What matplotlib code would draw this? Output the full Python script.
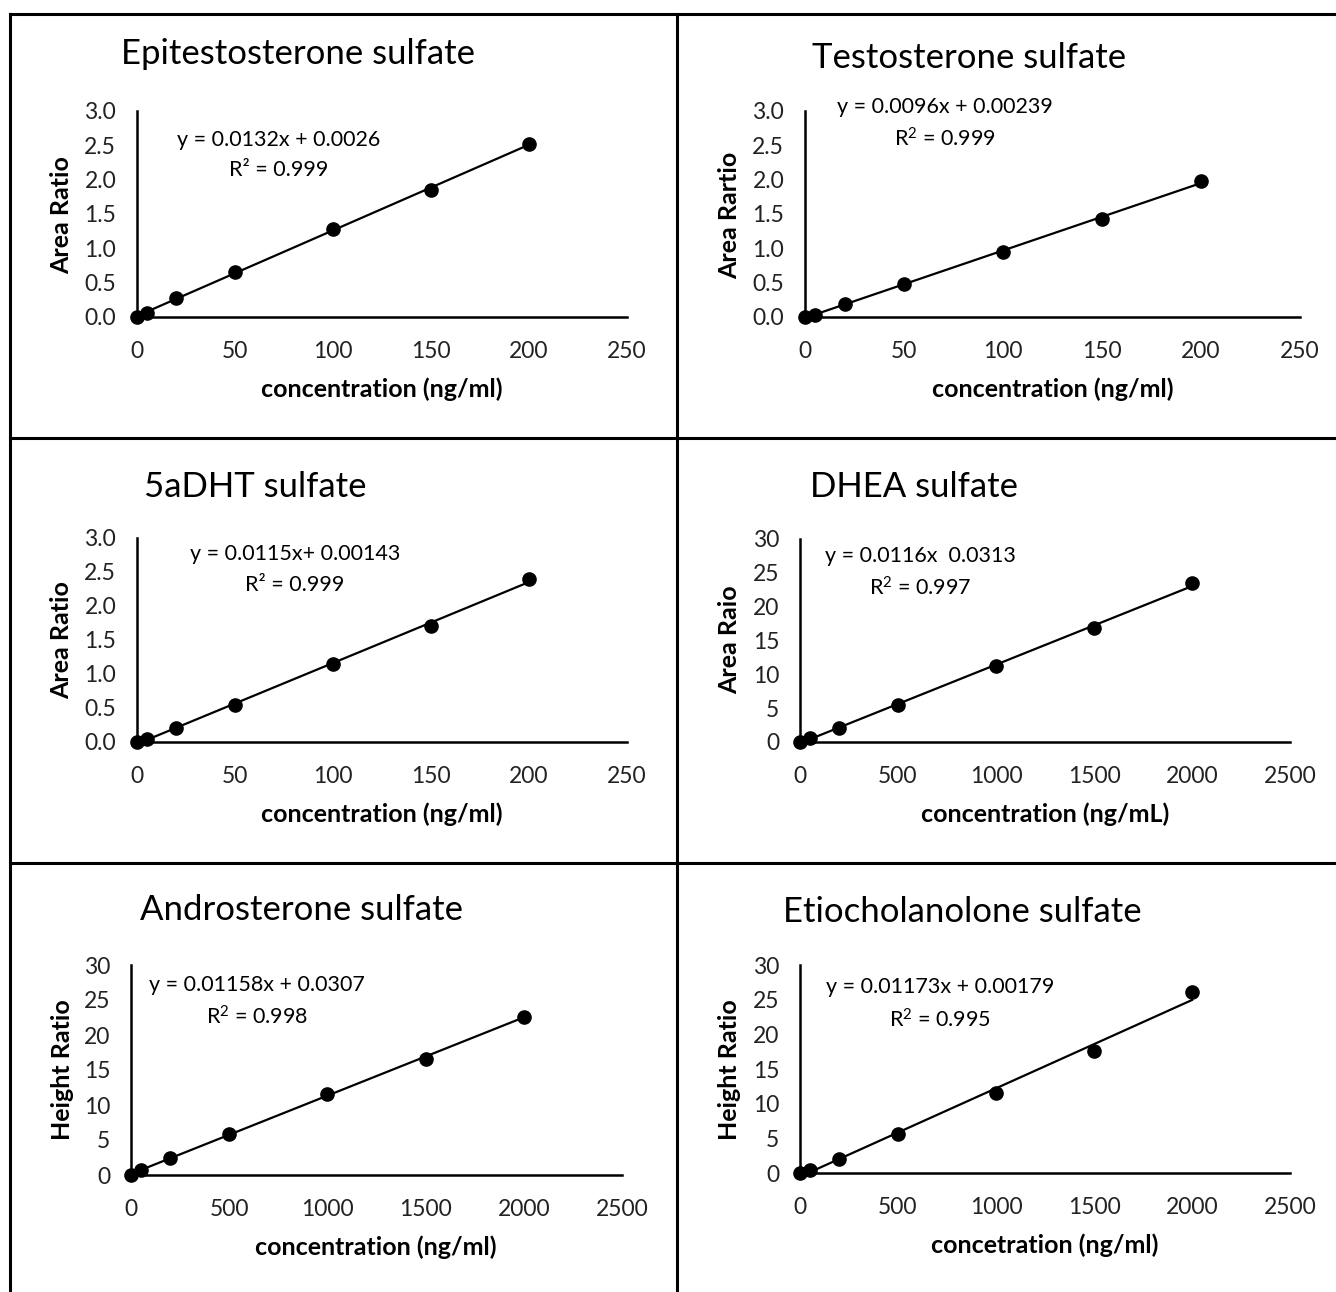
import numpy as np
import matplotlib.pyplot as plt
from matplotlib.lines import Line2D

plt.rcParams['font.family'] = ['Lato', 'DejaVu Sans']
plt.rcParams['mathtext.fontset'] = 'custom'
plt.rcParams['mathtext.rm'] = 'Lato'
plt.rcParams['mathtext.it'] = 'Lato:italic'

W, H = 1336, 1292

# calibration data
conc_low = [0, 5, 20, 50, 100, 150, 200]
conc_high = [0, 50, 200, 500, 1000, 1500, 2000]

epi_ratio = [0, 0.06, 0.28, 0.66, 1.28, 1.85, 2.52]
testo_ratio = [0, 0.03, 0.19, 0.48, 0.95, 1.43, 1.98]
dht_ratio = [0, 0.04, 0.21, 0.54, 1.15, 1.71, 2.40]
dhea_ratio = [0, 0.6, 2.1, 5.5, 11.2, 16.8, 23.5]
andro_ratio = [0, 0.7, 2.4, 5.9, 11.6, 16.6, 22.6]
etio_ratio = [0, 0.4, 2.0, 5.6, 11.5, 17.6, 26.1]

titles = ["Epitestosterone sulfate", "Testosterone sulfate", "5aDHT sulfate",
          "DHEA sulfate", "Androsterone sulfate", "Etiocholanolone sulfate"]
ylabels = ["Area Ratio", "Area Rartio", "Area Ratio", "Area Raio",
           "Height Ratio", "Height Ratio"]
xlabels = ["concentration (ng/ml)", "concentration (ng/ml)", "concentration (ng/ml)",
           "concentration (ng/mL)", "concentration (ng/ml)", "concetration (ng/ml)"]
equations = ["y = 0.0132x + 0.0026", "y = 0.0096x + 0.00239", "y = 0.0115x+ 0.00143",
             "y = 0.0116x  0.0313", "y = 0.01158x + 0.0307", "y = 0.01173x + 0.00179"]
r2_texts = ["R² = 0.999", "R$^2$ = 0.999", "R² = 0.999",
            "R$^2$ = 0.997", "R$^2$ = 0.998", "R$^2$ = 0.995"]

series = [(conc_low, epi_ratio), (conc_low, testo_ratio), (conc_low, dht_ratio),
          (conc_high, dhea_ratio), (conc_high, andro_ratio), (conc_high, etio_ratio)]

# pixel layout: axes box (x0, x1, ytop, ybottom) and text centres
layout = [
    dict(box=(137, 627, 111, 317), title=(298, 54), eq=(279, 140), r2=(279, 170), yl=(62, 215), xl=(382, 389)),
    dict(box=(805, 1300, 111, 317), title=(969, 58), eq=(945, 107), r2=(945, 139), yl=(730, 215), xl=(1053, 389)),
    dict(box=(137, 627, 538, 742), title=(255, 487), eq=(295, 554), r2=(295, 585), yl=(62, 640), xl=(382, 814)),
    dict(box=(800, 1290, 539, 742), title=(914, 487), eq=(920, 556), r2=(920, 588), yl=(730, 640), xl=(1045, 814)),
    dict(box=(131, 622, 965, 1175), title=(302, 910), eq=(257, 985), r2=(257, 1017), yl=(62, 1070), xl=(376, 1247)),
    dict(box=(800, 1290, 965, 1173), title=(962, 912), eq=(940, 987), r2=(940, 1020), yl=(730, 1070), xl=(1045, 1245)),
]


def fx(x):
    return x / W


def fy(y):
    return 1 - y / H


fig = plt.figure(figsize=(W / 100, H / 100), dpi=100)

for i, ((xs, ys), lay) in enumerate(zip(series, layout)):
    x0, x1, yt, yb = lay['box']
    ax = fig.add_axes([fx(x0), fy(yb), (x1 - x0) / W, (yb - yt) / H])
    xs = np.array(xs, dtype=float)
    ys = np.array(ys, dtype=float)

    slope, icpt = np.polyfit(xs, ys, 1)
    xfit = np.array([0, xs.max()])
    ax.plot(xfit, slope * xfit + icpt, color='black', lw=1.6, zorder=3)
    ax.plot(xs, ys, 'o', color='black', ms=9.5, clip_on=False, zorder=4)

    if i < 3:
        ax.set_xlim(0, 250)
        ax.set_ylim(0, 3.0)
        ax.set_xticks(np.arange(0, 251, 50))
        ax.set_yticks(np.arange(0, 3.01, 0.5))
        ax.set_yticklabels([f"{v:.1f}" for v in np.arange(0, 3.01, 0.5)])
    else:
        ax.set_xlim(0, 2500)
        ax.set_ylim(0, 30)
        ax.set_xticks(np.arange(0, 2501, 500))
        ax.set_yticks(np.arange(0, 31, 5))

    for s in ['top', 'right']:
        ax.spines[s].set_visible(False)
    for s in ['left', 'bottom']:
        ax.spines[s].set_linewidth(1.8)
    ax.tick_params(length=0, labelsize=16.5, colors='#222222')
    ax.tick_params(axis='x', pad=17)
    ax.tick_params(axis='y', pad=15)
    ax.patch.set_alpha(0)

    fig.text(fx(lay['title'][0]), fy(lay['title'][1]), titles[i], fontsize=25,
             ha='center', va='center')
    fig.text(fx(lay['eq'][0]), fy(lay['eq'][1]), equations[i], fontsize=15.5,
             ha='center', va='center')
    fig.text(fx(lay['r2'][0]), fy(lay['r2'][1]), r2_texts[i], fontsize=15.5,
             ha='center', va='center')
    fig.text(fx(lay['yl'][0]), fy(lay['yl'][1]), ylabels[i], fontsize=18,
             fontweight='bold', rotation=90, ha='center', va='center')
    fig.text(fx(lay['xl'][0]), fy(lay['xl'][1]), xlabels[i], fontsize=18,
             fontweight='bold', ha='center', va='center')

# panel frame lines
frame = [((10, 1336), (14, 14)), ((10, 10), (14, 1292)), ((677, 677), (14, 1292)),
         ((10, 1336), (438, 438)), ((10, 1336), (863, 863))]
for (xa, xb), (ya, yb) in frame:
    fig.add_artist(Line2D([fx(xa), fx(xb)], [fy(ya), fy(yb)], color='black', lw=2.2))

fig.savefig('out.png', dpi=100)
